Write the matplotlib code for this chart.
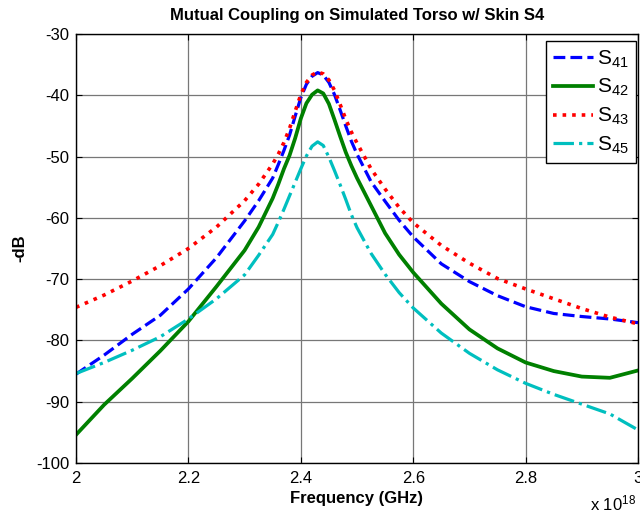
import matplotlib
matplotlib.use("Agg")
import matplotlib.pyplot as plt

plt.rcParams["font.family"] = ["Liberation Sans", "DejaVu Sans"]
plt.rcParams["mathtext.default"] = "regular"
plt.rcParams["axes.unicode_minus"] = False

# frequency in units of 1e18 (as shown on the axis)
freq = [2.0, 2.05, 2.1, 2.15, 2.2, 2.25, 2.3, 2.325, 2.35, 2.36, 2.37, 2.38, 2.39, 2.4, 2.41, 2.42, 2.43, 2.44,
        2.45, 2.46, 2.47, 2.48, 2.49, 2.5, 2.525, 2.55, 2.575, 2.6, 2.65, 2.7, 2.75, 2.8, 2.85, 2.9, 2.95, 3.0]
s41 = [-85.5, -82.4, -79.0, -75.9, -71.6, -66.5, -60.5, -57.2, -53.5, -51.3, -49.0, -46.5, -43.4, -40.4, -38.2,
       -36.9, -36.3, -36.7, -37.9, -39.9, -42.4, -45.0, -47.5, -49.6, -54.1, -57.3, -60.4, -63.1, -67.5, -70.4,
       -72.7, -74.5, -75.6, -76.1, -76.5, -77.1]
s42 = [-95.4, -90.5, -86.2, -81.7, -76.9, -71.2, -65.3, -61.5, -56.8, -54.5, -52.0, -49.8, -47.0, -43.8, -41.3,
       -39.9, -39.2, -39.7, -41.4, -44.0, -46.7, -49.3, -51.5, -53.5, -58.0, -62.5, -66.0, -68.9, -74.0, -78.2,
       -81.3, -83.6, -85.0, -85.9, -86.1, -84.9]
s43 = [-74.6, -72.6, -70.3, -67.8, -65.0, -61.5, -57.2, -54.5, -51.2, -49.6, -47.7, -45.4, -42.6, -39.9, -37.9,
       -36.7, -36.2, -36.5, -37.5, -39.2, -41.5, -43.9, -46.0, -47.8, -52.0, -55.3, -58.3, -60.8, -64.5, -67.4,
       -69.9, -71.6, -73.2, -74.8, -76.2, -77.3]
s45 = [-85.4, -83.6, -81.6, -79.4, -76.5, -73.2, -69.3, -66.1, -62.7, -60.7, -58.6, -56.4, -54.2, -52.0, -49.9,
       -48.3, -47.6, -48.2, -50.1, -52.3, -54.6, -57.0, -59.5, -61.6, -65.8, -69.2, -72.2, -74.7, -78.8, -82.1,
       -84.8, -87.0, -88.8, -90.4, -92.0, -94.6]

xticks = [2.0, 2.2, 2.4, 2.6, 2.8, 3.0]
xticklabels = ["2", "2.2", "2.4", "2.6", "2.8", "3"]
yticks = [-100, -90, -80, -70, -60, -50, -40, -30]

fig = plt.figure(figsize=(6.4, 5.17), dpi=100)
ax = fig.add_axes([76 / 640, 1 - 463 / 517, 562 / 640, 429 / 517])

lw = 2.3
ax.plot(freq, s41, color="#0000ff", ls="--", lw=lw, label="S$_{41}$")
ax.plot(freq, s42, color="#008000", ls="-", lw=lw + 0.4, label="S$_{42}$")
ax.plot(freq, s43, color="#ff0000", ls=":", lw=lw + 0.3, label="S$_{43}$")
ax.plot(freq, s45, color="#00bfbf", ls="-.", lw=lw, label="S$_{45}$")

ax.set_xlim(2.0, 3.0)
ax.set_ylim(-100, -30)
ax.set_xticks(xticks)
ax.set_xticklabels(xticklabels)
ax.set_yticks(yticks)
ax.grid(True, color="#777777", lw=0.9, ls="-")
ax.set_axisbelow(True)
ax.tick_params(direction="in", top=True, right=True, labelsize=12, length=4, width=0.8, pad=6)
ax.tick_params(axis="y", pad=5)
for s in ax.spines.values():
    s.set_linewidth(1.0)

ax.set_title("Mutual Coupling on Simulated Torso w/ Skin S4", fontsize=12, fontweight="bold", pad=10)
ax.set_xlabel("Frequency (GHz)", fontsize=12, fontweight="bold", labelpad=3)
ax.set_ylabel("-dB", fontsize=12, fontweight="bold", labelpad=6)
fig.text(590 / 640, 1 - 513 / 517, "x 10$^{18}$", fontsize=12, ha="left", va="bottom")

leg = ax.legend(loc="upper right", bbox_to_anchor=(0.9964, 0.9837), fontsize=15, frameon=True,
                fancybox=False, framealpha=1, edgecolor="black", borderaxespad=0.0,
                handlelength=1.9, labelspacing=0.36, handletextpad=0.2, borderpad=0.35)
leg.get_frame().set_linewidth(1.0)

fig.savefig("out.png", dpi=100, facecolor="white")
